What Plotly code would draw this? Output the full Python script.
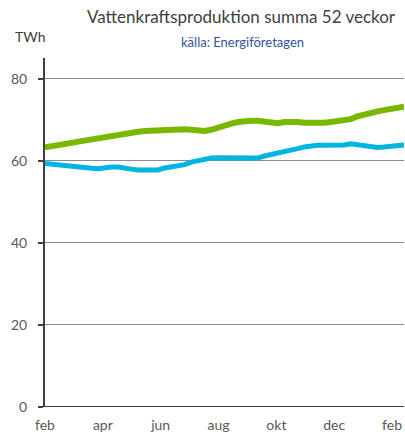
import plotly.graph_objects as go

weeks = list(range(55))
produktion_a = [63.3, 63.5, 63.8, 64.1, 64.4, 64.7, 65.0, 65.3, 65.5, 65.8,
                66.0, 66.4, 66.6, 66.9, 67.1, 67.3, 67.4, 67.5, 67.6, 67.7,
                67.7, 67.7, 67.6, 67.4, 67.3, 67.6, 68.2, 68.8, 69.1, 69.5,
                69.8, 69.8, 69.8, 69.6, 69.3, 69.2, 69.5, 69.6, 69.5, 69.3,
                69.2, 69.2, 69.3, 69.5, 69.8, 70.0, 70.2, 70.9, 71.4, 71.7,
                72.1, 72.4, 72.7, 72.9, 73.2]
produktion_b = [59.4, 59.2, 59.0, 58.8, 58.5, 58.4, 58.4, 58.2, 58.1, 58.4,
                58.5, 58.5, 58.4, 58.0, 57.8, 57.8, 57.8, 57.8, 58.3, 58.6,
                58.7, 59.1, 59.7, 60.1, 60.4, 60.7, 60.8, 60.8, 60.8, 60.5,
                60.5, 60.5, 60.7, 61.2, 61.5, 61.9, 62.3, 62.6, 63.0, 63.4,
                63.7, 63.8, 63.8, 63.8, 63.8, 63.9, 64.2, 63.9, 63.6, 63.5,
                63.3, 63.4, 63.6, 63.9, 63.9]
tick_pos = [0, 8.7, 17.4, 26.1, 34.8, 43.5, 52.2]
tick_labels = ["feb", "apr", "jun", "aug", "okt", "dec", "feb"]
y_ticks = [0, 20, 40, 60, 80]

FONT = "Lato, Carlito, 'Liberation Sans', sans-serif"

fig = go.Figure()
fig.add_trace(go.Scatter(x=weeks, y=produktion_a, mode="lines",
                         line=dict(color="#7AB800", width=6), hoverinfo="skip"))
fig.add_trace(go.Scatter(x=weeks, y=produktion_b, mode="lines",
                         line=dict(color="#00B5E2", width=5), hoverinfo="skip"))

fig.update_layout(
    width=405, height=448,
    margin=dict(l=45, r=1, t=58, b=41),
    paper_bgcolor="white", plot_bgcolor="white",
    showlegend=False,
    font=dict(family=FONT, color="#595959", size=14),
    title=dict(text="Vattenkraftsproduktion summa 52 veckor",
               x=241/405, xanchor="center", y=1-17/448, yanchor="middle",
               font=dict(family=FONT, size=17, color="#404040")),
    xaxis=dict(range=[0, 54], tickvals=tick_pos, ticktext=tick_labels,
               showgrid=False, zeroline=False, showline=False,
               ticks="", ticklabelstandoff=8,
               tickfont=dict(size=14, color="#595959")),
    yaxis=dict(range=[0, 85.1], tickvals=y_ticks, showgrid=True,
               gridcolor="#8C8C8C", gridwidth=1, zeroline=False,
               showline=True, linecolor="#404040", linewidth=2,
               ticks="outside", ticklen=5, tickcolor="#404040", tickwidth=1.5,
               ticklabelstandoff=8,
               tickfont=dict(size=14, color="#595959")),
    annotations=[
        dict(text="källa: Energiföretagen", xref="paper", yref="paper",
             x=(242-45)/359, y=1+(58-42)/349, xanchor="center", yanchor="middle",
             showarrow=False, font=dict(family=FONT, size=13, color="#2F5597")),
        dict(text="TWh", xref="paper", yref="paper",
             x=(13-45)/359, y=1+(58-37)/349, xanchor="left", yanchor="middle",
             showarrow=False, font=dict(family=FONT, size=14, color="#404040")),
    ],
)
# dark baseline at zero
fig.add_shape(type="line", xref="paper", yref="y", x0=0, x1=1, y0=0, y1=0,
              line=dict(color="#404040", width=2))

fig.write_html("out.html", config={"displayModeBar": False},
               post_script="document.body.style.margin='0';document.body.style.overflow='hidden';")
